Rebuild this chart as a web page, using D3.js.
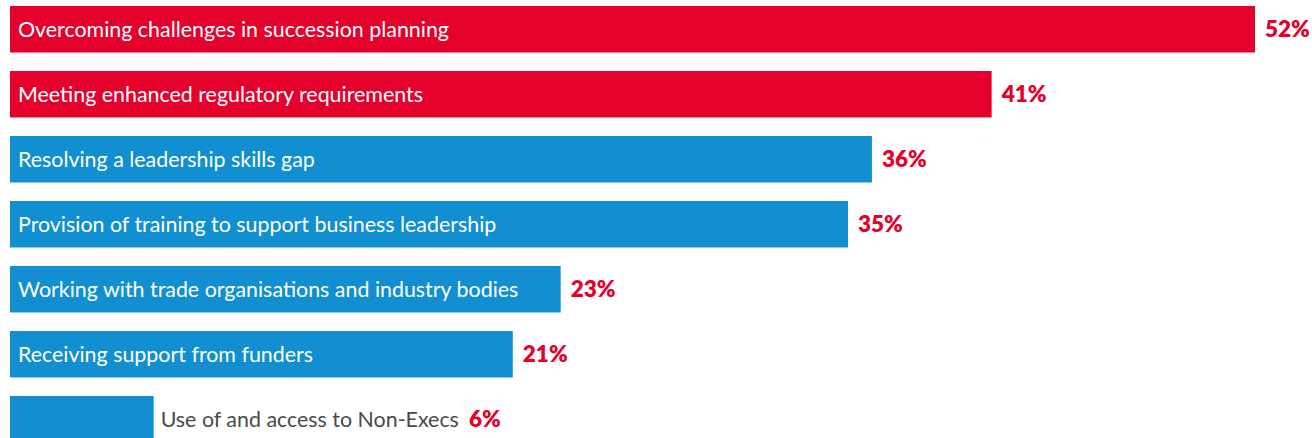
<!DOCTYPE html>
<html>
<head>
<meta charset="utf-8">
<script src="https://cdn.jsdelivr.net/npm/d3@7"></script>
<style>
  html, body { margin: 0; padding: 0; background: #ffffff; overflow: hidden; }
  svg { display: block; }
  text { font-family: Lato, "Open Sans", sans-serif; }
</style>
</head>
<body>
<svg id="chart" width="1312" height="438"></svg>
<script>
// Survey responses: share of respondents naming each area
const categories = [
  "Overcoming challenges in succession planning",
  "Meeting enhanced regulatory requirements",
  "Resolving a leadership skills gap",
  "Provision of training to support business leadership",
  "Working with trade organisations and industry bodies",
  "Receiving support from funders",
  "Use of and access to Non-Execs"
];
const values = [52, 41, 36, 35, 23, 21, 6];
const highlighted = [true, true, false, false, false, false, false];

const svg = d3.select("#chart");

const red = "#e4022d";
const blue = "#118fd0";

const x = d3.scaleLinear().domain([0, 52]).range([10, 1255]);

// Rows every 65px, bars 46.5px tall; the last row runs off the bottom edge
const step = 65, pad = 0.285, n = categories.length;
const y = d3.scaleBand()
  .domain(d3.range(n))
  .range([6, 6 + step * (n - pad)])
  .paddingInner(pad)
  .paddingOuter(0);

const rows = svg.selectAll("g.row")
  .data(values.map((v, i) => ({ v, i, name: categories[i], hi: highlighted[i] })))
  .join("g")
  .attr("class", "row");

rows.append("rect")
  .attr("x", x(0))
  .attr("y", d => y(d.i))
  .attr("width", d => x(d.v) - x(0))
  .attr("height", y.bandwidth())
  .attr("fill", d => d.hi ? red : blue);

// Category names sit inside the bar, or just after it when the bar is too short
const fontSize = 21.4;
rows.append("text")
  .attr("class", "name")
  .attr("y", d => y(d.i) + y.bandwidth() / 2)
  .attr("dy", "0.35em")
  .style("font-size", fontSize + "px")
  .text(d => d.name)
  .each(function (d) {
    const w = this.getComputedTextLength();
    const fits = w + 16 < x(d.v) - x(0);
    d3.select(this)
      .attr("x", fits ? x(0) + 8 : x(d.v) + 7)
      .attr("fill", fits ? "#ffffff" : "#4a4a4a");
    d.nameEnd = fits ? x(d.v) : x(d.v) + 7 + w;
  });

rows.append("text")
  .attr("class", "value")
  .attr("x", d => d.nameEnd + 10)
  .attr("y", d => y(d.i) + y.bandwidth() / 2)
  .attr("dy", "0.36em")
  .attr("fill", red)
  .style("font-size", "22.5px")
  .style("font-weight", 800)
  .text(d => d.v + "%");
</script>
</body>
</html>
